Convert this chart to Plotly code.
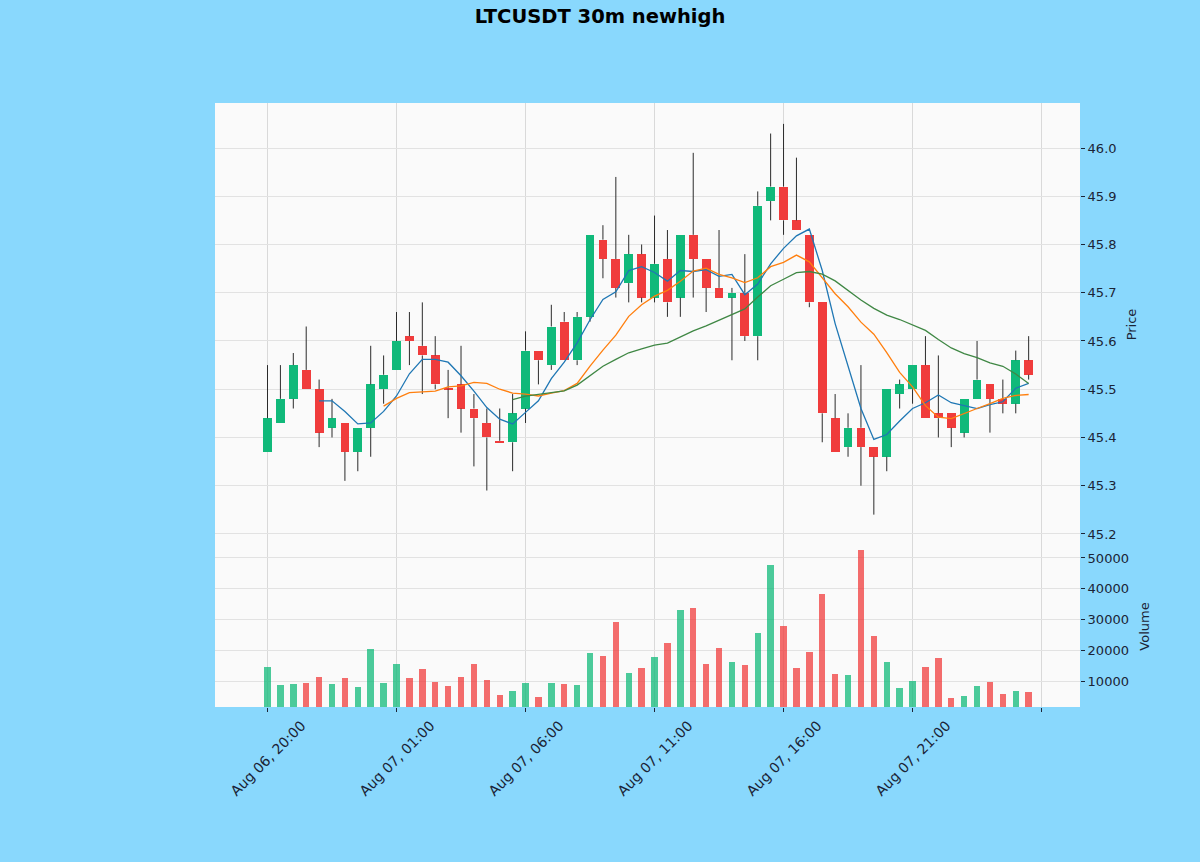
import plotly.graph_objects as go
import pandas as pd

# ---- data ----
tick_labels = ["Aug 06, 20:00", "Aug 07, 01:00", "Aug 07, 06:00", "Aug 07, 11:00",
               "Aug 07, 16:00", "Aug 07, 21:00", ""]
tick_positions = [0, 10, 20, 30, 40, 50, 60]

opens = [45.37, 45.43, 45.48, 45.54, 45.50, 45.42, 45.43, 45.37, 45.42, 45.50,
         45.54, 45.61, 45.59, 45.57, 45.502, 45.51, 45.46, 45.43, 45.393, 45.39,
         45.46, 45.58, 45.55, 45.64, 45.56, 45.65, 45.81, 45.77, 45.72, 45.78,
         45.69, 45.77, 45.69, 45.82, 45.77, 45.71, 45.69, 45.70, 45.61, 45.89,
         45.92, 45.85, 45.82, 45.68, 45.44, 45.38, 45.42, 45.38, 45.36, 45.49,
         45.50, 45.55, 45.45, 45.45, 45.41, 45.48, 45.51, 45.48, 45.47, 45.56]
highs = [45.55, 45.55, 45.575, 45.63, 45.52, 45.48, 45.43, 45.42, 45.59, 45.57,
         45.66, 45.66, 45.68, 45.61, 45.54, 45.59, 45.49, 45.46, 45.46, 45.49,
         45.62, 45.58, 45.675, 45.66, 45.66, 45.82, 45.84, 45.94, 45.82, 45.80,
         45.86, 45.83, 45.82, 45.99, 45.77, 45.83, 45.71, 45.78, 45.91, 46.03,
         46.05, 45.98, 45.82, 45.68, 45.49, 45.45, 45.55, 45.38, 45.50, 45.52,
         45.55, 45.61, 45.57, 45.45, 45.48, 45.60, 45.51, 45.52, 45.58, 45.61]
lows = [45.37, 45.43, 45.46, 45.50, 45.38, 45.40, 45.31, 45.33, 45.36, 45.47,
        45.54, 45.55, 45.49, 45.50, 45.44, 45.41, 45.34, 45.29, 45.39, 45.33,
        45.43, 45.51, 45.54, 45.56, 45.55, 45.64, 45.73, 45.69, 45.68, 45.68,
        45.68, 45.65, 45.65, 45.69, 45.66, 45.69, 45.56, 45.60, 45.56, 45.85,
        45.82, 45.83, 45.67, 45.39, 45.37, 45.36, 45.30, 45.24, 45.33, 45.46,
        45.47, 45.44, 45.40, 45.38, 45.40, 45.48, 45.41, 45.45, 45.45, 45.52]
closes = [45.44, 45.48, 45.55, 45.50, 45.41, 45.44, 45.37, 45.42, 45.51, 45.53,
          45.60, 45.60, 45.57, 45.51, 45.50, 45.46, 45.44, 45.40, 45.39, 45.45,
          45.58, 45.56, 45.63, 45.56, 45.65, 45.82, 45.77, 45.71, 45.78, 45.69,
          45.76, 45.68, 45.82, 45.77, 45.71, 45.69, 45.70, 45.61, 45.88, 45.92,
          45.85, 45.83, 45.68, 45.45, 45.37, 45.42, 45.38, 45.36, 45.50, 45.51,
          45.55, 45.44, 45.44, 45.42, 45.48, 45.52, 45.48, 45.47, 45.56, 45.53]
volumes = [14650, 8700, 9020, 9450, 11400, 8920, 11080, 8150, 20400, 9240,
           15530, 11080, 13800, 9780, 8480, 11400, 15530, 10320, 5450, 6850,
           9240, 4900, 9240, 9020, 8700, 19200, 18130, 29070, 12700, 14100,
           17700, 22250, 33090, 33840, 15530, 20620, 16070, 15200, 25500, 47720,
           27990, 14100, 19320, 38290, 12170, 11950, 52600, 24730, 16070, 7830,
           10000, 14650, 17590, 4570, 5120, 8370, 9560, 5770, 6750, 6320]
ma_windows = [5, 10, 20]

# ---- styling ----
UP = "#10b97a"
DOWN = "#f03c3c"
UP_V = "rgba(16,185,122,0.75)"
DOWN_V = "rgba(240,60,60,0.75)"
MA_COLORS = ["#1f77b4", "#ff7f0e", "#3f8744"]
FONT = "DejaVu Sans"
TEXT = "#1b2436"
GRID = "#e2e2e2"
VGRID = "#d9d9d9"
BG = "#89d8fd"

n = len(closes)
idx = list(range(n))
up = [c >= o for o, c in zip(opens, closes)]
body_col = [UP if u else DOWN for u in up]
vol_col = [UP_V if u else DOWN_V for u in up]
body_lo = [min(o, c) for o, c in zip(opens, closes)]
body_hi = [max(o, c) for o, c in zip(opens, closes)]
body_h = [h - l for h, l in zip(body_hi, body_lo)]

wx, wy = [], []
for i in idx:
    if highs[i] > body_hi[i]:
        wx += [i, i, None]
        wy += [body_hi[i], highs[i], None]
    if lows[i] < body_lo[i]:
        wx += [i, i, None]
        wy += [lows[i], body_lo[i], None]

fig = go.Figure()
fig.add_trace(go.Scatter(x=wx, y=wy, mode="lines", line=dict(color="#2b2b2b", width=1),
                         hoverinfo="skip", showlegend=False, xaxis="x", yaxis="y"))
fig.add_trace(go.Bar(x=idx, y=body_h, base=body_lo, width=0.68,
                     marker=dict(color=body_col, line=dict(width=0)),
                     showlegend=False, xaxis="x", yaxis="y"))

cs = pd.Series(closes)
for w, col in zip(ma_windows, MA_COLORS):
    ma = cs.rolling(w).mean()
    fig.add_trace(go.Scatter(x=idx, y=ma, mode="lines", line=dict(color=col, width=1.3),
                             showlegend=False, xaxis="x", yaxis="y"))

fig.add_trace(go.Bar(x=idx, y=volumes, width=0.5,
                     marker=dict(color=vol_col, line=dict(width=0)),
                     showlegend=False, xaxis="x2", yaxis="y2"))

vol_frac = 161 / 604
xr = [-4.07, 62.98]

fig.update_layout(
    width=1200, height=862,
    margin=dict(l=215, r=120, t=103, b=155),
    paper_bgcolor=BG,
    plot_bgcolor="#fafafa",
    font=dict(family=FONT, size=13, color=TEXT),
    title=dict(text="<b>LTCUSDT 30m newhigh</b>", x=0.5, xanchor="center",
               y=1 - 16 / 862, yanchor="middle", yref="container",
               font=dict(family=FONT, size=19.5, color="#000000")),
    bargap=0,
    xaxis=dict(domain=[0, 1], range=xr, anchor="y", matches="x2",
               tickvals=tick_positions, showticklabels=False, ticks="",
               showgrid=True, gridcolor=VGRID, gridwidth=1.2, zeroline=False, showline=False),
    yaxis=dict(domain=[vol_frac, 1], range=[45.175, 46.0933], side="right",
               tick0=45.2, dtick=0.1, tickformat=".1f", ticks="outside", ticklen=4,
               tickcolor=TEXT, showgrid=True, gridcolor=GRID, gridwidth=1.2,
               zeroline=False, showline=False,
               title=dict(text="Price", standoff=11, font=dict(size=13))),
    xaxis2=dict(domain=[0, 1], range=xr, anchor="y2",
                tickvals=tick_positions, ticktext=tick_labels, tickangle=-45,
                tickfont=dict(size=14), ticklabelshift=34,
                ticks="outside", ticklen=4, tickcolor=TEXT,
                showgrid=True, gridcolor=VGRID, gridwidth=1.2, zeroline=False, showline=False),
    yaxis2=dict(domain=[0, vol_frac], range=[1545, 53900], side="right",
                tickvals=[10000, 20000, 30000, 40000, 50000], tickformat="d",
                ticks="outside", ticklen=4, tickcolor=TEXT,
                showgrid=True, gridcolor=GRID, gridwidth=1.2, zeroline=False, showline=False,
                title=dict(text="Volume", standoff=11, font=dict(size=13))),
)

fig.write_html(
    "out.html",
    config={"displayModeBar": False},
    post_script="document.body.style.margin='0';document.body.style.padding='0';"
                "document.body.style.background='" + BG + "';",
)
